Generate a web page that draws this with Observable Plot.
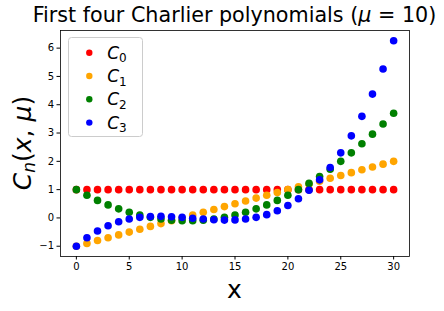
<!DOCTYPE html>
<html><head><meta charset="utf-8">
<script src="https://cdn.jsdelivr.net/npm/d3@7"></script>
<script src="https://cdn.jsdelivr.net/npm/@observablehq/plot@0.6"></script>
<style>body{margin:0;background:#fff}</style>
</head><body><div id="chart"></div>
<script>
const xs = [0,1,2,3,4,5,6,7,8,9,10,11,12,13,14,15,16,17,18,19,20,21,22,23,24,25,26,27,28,29,30];
const c0 = [1,1,1,1,1,1,1,1,1,1,1,1,1,1,1,1,1,1,1,1,1,1,1,1,1,1,1,1,1,1,1];
const c1 = [-1,-0.9,-0.8,-0.7,-0.6,-0.5,-0.4,-0.3,-0.2,-0.1,0,0.1,0.2,0.3,0.4,0.5,0.6,0.7,0.8,0.9,1,1.1,1.2,1.3,1.4,1.5,1.6,1.7,1.8,1.9,2];
const c2 = [1,0.8,0.62,0.46,0.32,0.2,0.1,0.02,-0.04,-0.08,-0.1,-0.1,-0.08,-0.04,0.02,0.1,0.2,0.32,0.46,0.62,0.8,1,1.22,1.46,1.72,2,2.3,2.62,2.96,3.32,3.7];
const c3 = [-1,-0.7,-0.46,-0.274,-0.136,-0.04,0.02,0.05,0.056,0.044,0.02,-0.01,-0.04,-0.064,-0.076,-0.07,-0.04,0.02,0.116,0.254,0.44,0.68,0.98,1.346,1.784,2.3,2.9,3.59,4.376,5.264,6.26];
const seriesNames = ["0","1","2","3"];
const seriesColors = ["red","orange","green","blue"];
const xTicks = [0,5,10,15,20,25,30];
const yTicks = [-1,0,1,2,3,4,5,6];
const titleText = "First four Charlier polynomials (";

const allSeries = [c0,c1,c2,c3];
const data = [];
allSeries.forEach((vals,i)=>vals.forEach((v,j)=>data.push({x:xs[j], y:v, s:i})));

const W=444,H=311, mL=60, mR=35, mT=30, mB=55;
const chart = Plot.plot({
  width:W, height:H, marginLeft:mL, marginRight:mR, marginTop:mT, marginBottom:mB,
  style:{fontFamily:"DejaVu Sans", fontSize:"10px", color:"#000", background:"#fff"},
  x:{domain:[-1.5,31.5]},
  y:{domain:[-1.363,6.623]},
  marks:[
    Plot.axisX({ticks:xTicks, tickSize:3.5, tickPadding:3, label:null, fontSize:10}),
    Plot.axisY({ticks:yTicks, tickSize:3.5, tickPadding:3, label:null, fontSize:10}),
    ...allSeries.map((vals,i)=>Plot.dot(data.filter(d=>d.s===i), {x:"x", y:"y", r:3.8, fill:seriesColors[i], stroke:"none"})),
    Plot.frame({stroke:"#000", strokeWidth:0.8})
  ]
});
document.getElementById("chart").appendChild(chart);
const svg = d3.select(chart);
const cx = mL + (W-mL-mR)/2;
// title
const t = svg.append("text").attr("x",cx).attr("y",22).attr("text-anchor","middle")
  .style("font-family","DejaVu Sans").style("font-size","20.7px").attr("fill","#000");
t.append("tspan").text(titleText);
t.append("tspan").style("font-style","italic").text("μ");
t.append("tspan").text(" = 10)");
// x label
svg.append("text").attr("x",cx).attr("y",298).attr("text-anchor","middle")
  .style("font-family","DejaVu Sans").style("font-size","25px").attr("fill","#000").text("x");
// y label
const yl = svg.append("text").attr("transform",`translate(31,${mT+(H-mT-mB)/2}) rotate(-90)`).attr("text-anchor","middle")
  .style("font-family","DejaVu Sans").style("font-size","25px").attr("fill","#000");
yl.append("tspan").style("font-style","italic").text("C");
yl.append("tspan").style("font-style","italic").style("font-size","17px").attr("dy",4).text("n");
yl.append("tspan").attr("dy",-4).text("(");
yl.append("tspan").style("font-style","italic").text("x");
yl.append("tspan").text(", ");
yl.append("tspan").style("font-style","italic").text("μ");
yl.append("tspan").text(")");
// legend
const lg = svg.append("g");
lg.append("rect").attr("x",68.5).attr("y",37.5).attr("width",74).attr("height",99).attr("rx",3)
  .attr("fill","#fff").attr("fill-opacity",0.8).attr("stroke","#ccc").attr("stroke-width",1);
seriesNames.forEach((n,i)=>{
  const yy = 52.7 + i*23.3;
  lg.append("circle").attr("cx",89.3).attr("cy",yy).attr("r",3.2).attr("fill",seriesColors[i]);
  const tx = lg.append("text").attr("x",117).attr("y",yy+6).style("font-family","DejaVu Sans").attr("fill","#000");
  tx.append("tspan").style("font-style","italic").style("font-size","17px").text("C");
  tx.append("tspan").style("font-size","12px").attr("dy",3.5).text(n);
});
</script></body></html>
